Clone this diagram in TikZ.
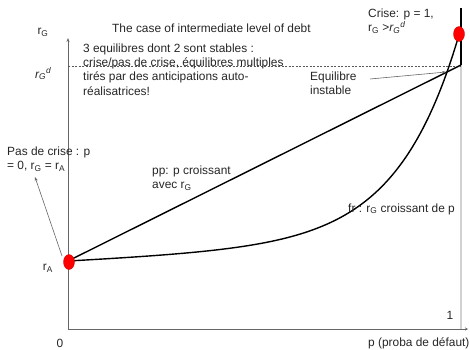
\documentclass[tikz,border=0pt]{standalone}
\usepackage{fontspec}
\setmainfont{Liberation Sans}
\usetikzlibrary{arrows.meta,shapes.geometric}
\newcommand{\rsub}[1]{r\textsubscript{#1}}
\begin{document}
\begin{tikzpicture}[x=1pt,y=-1pt,
  every node/.style={inner sep=0pt, font=\fontsize{11.9}{14.3}\selectfont, text=black!85},
  axisline/.style={draw=black!60, line width=0.8pt},
  curveline/.style={draw=black, line width=1.4pt},
  thinarrow/.style={draw=black!60, line width=0.6pt, -{Stealth[length=4pt,width=3pt]}},
  redpoint/.style={ellipse, fill=red, draw=red!80!black, line width=0.3pt, minimum width=11pt, minimum height=15pt},
  txt/.style={align=left, anchor=north west}
]
\useasboundingbox (0,0) rectangle (470,349);
% coordinates
\coordinate (O) at (68,329);
\coordinate (ytop) at (68,38);
\coordinate (xend) at (468,329);
\coordinate (g1) at (461,66);
\coordinate (g0) at (461,329);
\coordinate (d0) at (68,66);
\coordinate (ppend) at (461,65);
\coordinate (top) at (461,8);
% light vertical at p=1
\draw[draw=black!18, line width=1.2pt] (g1) -- (g0);
% axes
\draw[axisline, -{Stealth[length=4pt,width=3pt]}] (O) -- (ytop);
\draw[axisline, -{Stealth[length=3pt,width=3pt]}] (O) -- (xend);
% dashed r_G^d
\draw[draw=black!65, line width=0.6pt, dash pattern=on 2pt off 1.5pt] (d0) -- (g1);
% pp line
\draw[curveline] (68,261) -- (ppend);
\draw[draw=black, line width=2.4pt] (ppend) -- (top);
% fr curve
\draw[curveline] plot[domain=0:391, samples=120, smooth] ({68+\x},{261-0.05*\x-0.3624*(exp(0.01623*\x)-1)});
% red points
\node[redpoint] (A) at (69,262) {};
\node[redpoint] (C) at (459,34) {};
% labels
\node (rG) at (43,32) {\rsub{G}};
\node[anchor=base west] (rGd) at (35,78) {\textit{\rsub{G}\textsuperscript{d}}};
\node[anchor=west] (title) at (112,28) {The case of intermediate level of debt};
\node[txt] (eq) at (83,43.4) {3 equilibres dont 2 sont stables :\\crise/pas de crise, équilibres multiples\\tirés par des anticipations auto-\\réalisatrices!};
\node[txt] (nocrise) at (7,146.5) {Pas de crise : p\\= 0, \rsub{G} = \rsub{A}};
\node[txt] (pp) at (152,165.5) {pp: p croissant\\avec \rsub{G}};
\node[anchor=west] (fr) at (348,209) {fr : \rsub{G} croissant de p};
\node[txt] (instable) at (310,71.5) {Equilibre\\instable};
\node[txt] (crise) at (368,8.5) {Crise: p = 1,\\\rsub{G} >\textit{\rsub{G}\textsuperscript{d}}};
\node (rA) at (48,268) {\rsub{A}};
\node (zero) at (60,343) {0};
\node (one) at (450,315) {1};
\node[anchor=west] (xlab) at (368,343) {p (proba de défaut)};
\coordinate (eqpt) at (446,72);
% arrows
\draw[thinarrow] (62,256) -- (35,177);
\draw[thinarrow] (370,79) -- (eqpt);
\end{tikzpicture}
\end{document}
